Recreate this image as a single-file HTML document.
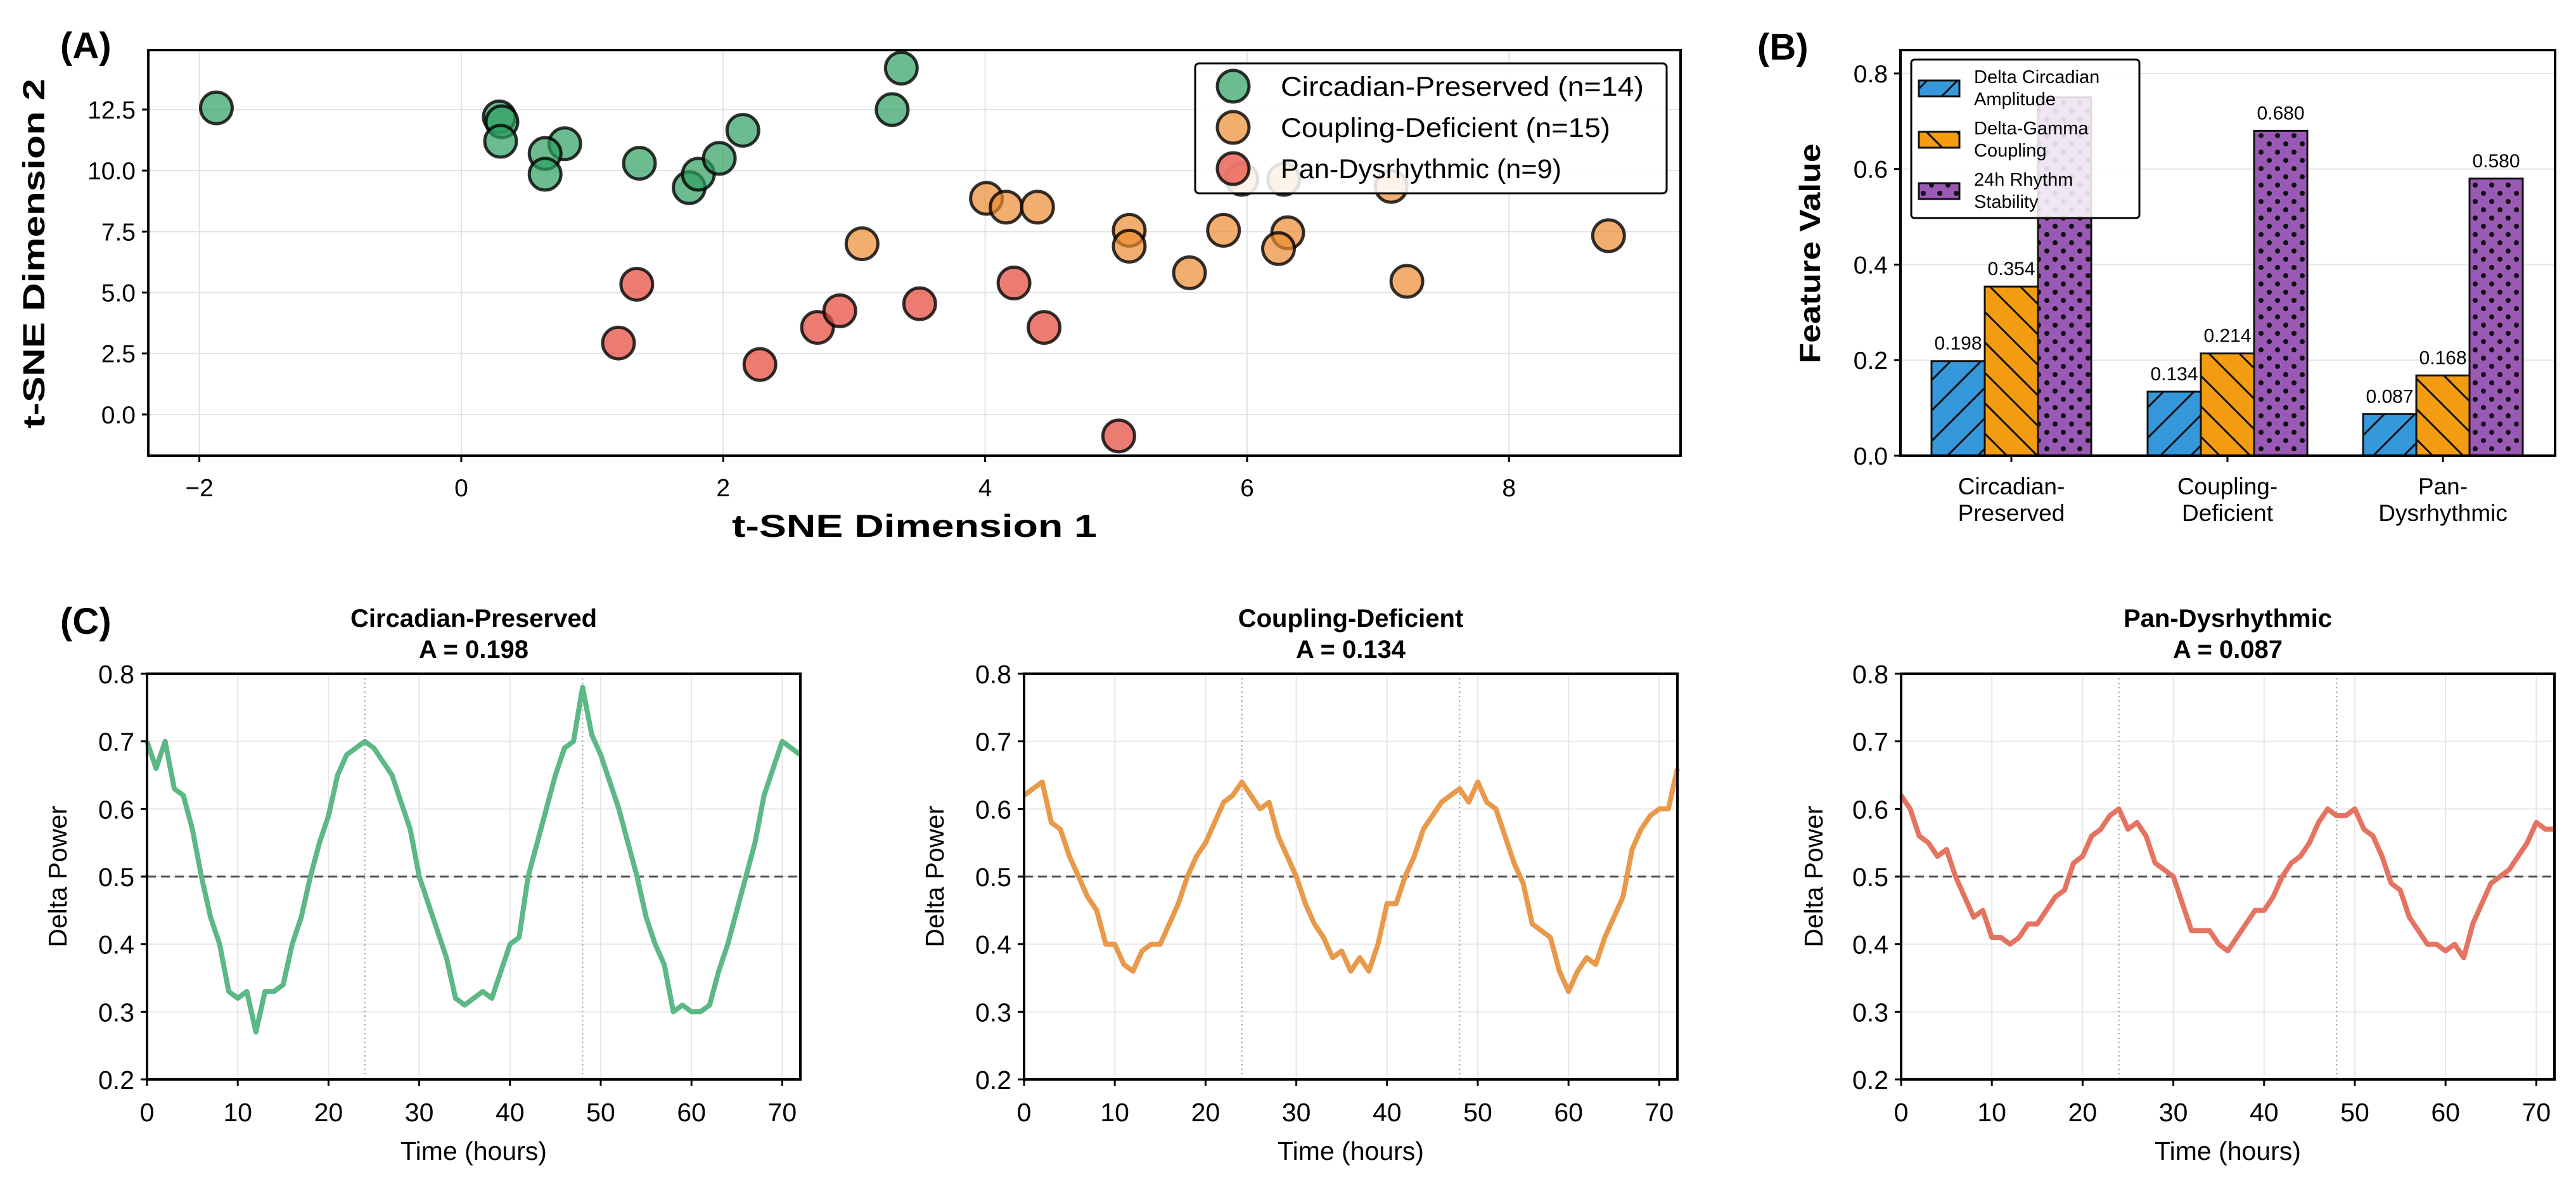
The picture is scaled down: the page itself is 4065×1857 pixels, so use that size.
<!DOCTYPE html>
<html><head><meta charset="utf-8"><style>
html,body{margin:0;padding:0;background:#fff;}
svg{display:block;font-family:"Liberation Sans","DejaVu Sans",sans-serif;}
</style></head><body>
<svg id="fig" xmlns="http://www.w3.org/2000/svg" width="4065" height="1857" viewBox="0 0 4065 1857">
<defs>
<pattern id="hatchF" patternUnits="userSpaceOnUse" width="48" height="48"><rect width="48" height="48" fill="#3498db"/><path d="M-12,60 L60,-12 M-12,12 L12,-12 M36,60 L60,36" stroke="#111" stroke-width="3"/></pattern>
<pattern id="hatchB" patternUnits="userSpaceOnUse" width="48" height="48"><rect width="48" height="48" fill="#f39c12"/><path d="M-12,-12 L60,60 M36,-12 L60,12 M-12,36 L12,60" stroke="#111" stroke-width="3"/></pattern>
<pattern id="dots" patternUnits="userSpaceOnUse" width="26" height="26"><rect width="26" height="26" fill="#9b59b6"/><circle cx="6" cy="6" r="4" fill="#111"/><circle cx="19" cy="19" r="4" fill="#111"/></pattern>
</defs>
<g id="gA"></g>
<g id="gB"></g>
<g id="gC"></g>
</svg>
<script>
// ---------- Panel A data ----------
const groupNames = ["Circadian-Preserved (n=14)", "Coupling-Deficient (n=15)", "Pan-Dysrhythmic (n=9)"];
const greenX = [-1.87, 0.29, 0.31, 0.30, 0.79, 0.64, 0.64, 1.36, 1.74, 1.81, 1.97, 2.15, 3.29, 3.36];
const greenY = [12.57, 12.2, 12.0, 11.2, 11.1, 10.7, 9.85, 10.3, 9.3, 9.85, 10.5, 11.65, 12.5, 14.2];
const orangeX = [4.01, 4.16, 4.40, 3.06, 5.10, 5.10, 5.56, 5.82, 5.96, 6.28, 6.31, 6.24, 7.10, 7.22, 8.76];
const orangeY = [8.86, 8.5, 8.5, 7.0, 7.55, 6.9, 5.81, 7.55, 9.64, 9.64, 7.45, 6.8, 9.35, 5.46, 7.33];
const redX = [1.34, 1.20, 2.28, 2.72, 2.89, 3.50, 4.22, 4.45, 5.02];
const redY = [5.34, 2.93, 2.05, 3.57, 4.25, 4.54, 5.39, 3.57, -0.88];
const aXTicks = [-2, 0, 2, 4, 6, 8];
const aYTicks = [0, 2.5, 5, 7.5, 10, 12.5];
const aYTickLabels = ["0.0", "2.5", "5.0", "7.5", "10.0", "12.5"];

// ---------- Panel B data ----------
const bCategories = [["Circadian-", "Preserved"], ["Coupling-", "Deficient"], ["Pan-", "Dysrhythmic"]];
const amplitudeVals = [0.198, 0.134, 0.087];
const couplingVals = [0.354, 0.214, 0.168];
const stabilityVals = [0.75, 0.680, 0.580];
const stabilityLabels = ["", "0.680", "0.580"];
const bSeriesNames = [["Delta Circadian", "Amplitude"], ["Delta-Gamma", "Coupling"], ["24h Rhythm", "Stability"]];
const bYTicks = [0, 0.2, 0.4, 0.6, 0.8];

// ---------- Panel C data (hourly) ----------
const cTitles = ["Circadian-Preserved", "Coupling-Deficient", "Pan-Dysrhythmic"];
const cAmps = ["A = 0.198", "A = 0.134", "A = 0.087"];
const greenSeries = [0.70,0.66,0.70,0.63,0.62,0.57,0.50,0.44,0.40,0.33,0.32,0.33,0.27,0.33,0.33,0.34,0.40,0.44,0.50,0.55,0.59,0.65,0.68,0.69,0.70,0.69,0.67,0.65,0.61,0.57,0.50,0.46,0.42,0.38,0.32,0.31,0.32,0.33,0.32,0.36,0.40,0.41,0.50,0.55,0.60,0.65,0.69,0.70,0.78,0.71,0.68,0.64,0.60,0.55,0.50,0.44,0.40,0.37,0.30,0.31,0.30,0.30,0.31,0.36,0.40,0.45,0.50,0.55,0.62,0.66,0.70,0.69,0.68];
const orangeSeries = [0.62,0.63,0.64,0.58,0.57,0.53,0.50,0.47,0.45,0.40,0.40,0.37,0.36,0.39,0.40,0.40,0.43,0.46,0.50,0.53,0.55,0.58,0.61,0.62,0.64,0.62,0.60,0.61,0.56,0.53,0.50,0.46,0.43,0.41,0.38,0.39,0.36,0.38,0.36,0.40,0.46,0.46,0.50,0.53,0.57,0.59,0.61,0.62,0.63,0.61,0.64,0.61,0.60,0.56,0.52,0.49,0.43,0.42,0.41,0.36,0.33,0.36,0.38,0.37,0.41,0.44,0.47,0.54,0.57,0.59,0.60,0.60,0.66];
const redSeries = [0.62,0.60,0.56,0.55,0.53,0.54,0.50,0.47,0.44,0.45,0.41,0.41,0.40,0.41,0.43,0.43,0.45,0.47,0.48,0.52,0.53,0.56,0.57,0.59,0.60,0.57,0.58,0.56,0.52,0.51,0.50,0.46,0.42,0.42,0.42,0.40,0.39,0.41,0.43,0.45,0.45,0.47,0.50,0.52,0.53,0.55,0.58,0.60,0.59,0.59,0.60,0.57,0.56,0.53,0.49,0.48,0.44,0.42,0.40,0.40,0.39,0.40,0.38,0.43,0.46,0.49,0.50,0.51,0.53,0.55,0.58,0.57,0.57];
const cXTicks = [0, 10, 20, 30, 40, 50, 60, 70];
const cYTicks = [0.2, 0.3, 0.4, 0.5, 0.6, 0.7, 0.8];

const NS = "http://www.w3.org/2000/svg";
function mk(parent, tag, attrs, text) {
  const e = document.createElementNS(NS, tag);
  for (const k in attrs) e.setAttribute(k, attrs[k]);
  if (text !== undefined) e.textContent = text;
  parent.appendChild(e);
  return e;
}

// ================= Panel A =================
(function () {
  const g = document.getElementById("gA");
  const L = 234, R = 2652, T = 79, B = 719;
  const xmin = -2.39, xmax = 9.31, ymin = -1.69, ymax = 14.94;
  const sx = v => L + (v - xmin) / (xmax - xmin) * (R - L);
  const sy = v => B - (v - ymin) / (ymax - ymin) * (B - T);
  let t = mk(g, "text", {x: 95, y: 92, "font-size": 58, "font-weight": "bold"}, "(A)");
  
  
  aXTicks.forEach(v => {
    let ln = mk(g, "line", {x1: sx(v), x2: sx(v), y1: T, y2: B, stroke: "#e3e3e3", "stroke-width": 2});
    
    
    mk(g, "line", {x1: sx(v), x2: sx(v), y1: B, y2: B + 10, stroke: "#000", "stroke-width": 3});
    let lb = mk(g, "text", {x: sx(v), y: B + 64, "font-size": 39, "text-anchor": "middle"}, v < 0 ? "\u2212" + (-v) : String(v));
    
    
  });
  aYTicks.forEach((v, i) => {
    let ln = mk(g, "line", {x1: L, x2: R, y1: sy(v), y2: sy(v), stroke: "#e3e3e3", "stroke-width": 2});
    
    
    mk(g, "line", {x1: L - 10, x2: L, y1: sy(v), y2: sy(v), stroke: "#000", "stroke-width": 3});
    let lb = mk(g, "text", {x: L - 20, y: sy(v) + 14, "font-size": 39, "text-anchor": "end"}, aYTickLabels[i]);
    
    
  });
  const sets = [[greenX, greenY, "rgba(46,160,96,0.7)", "green"], [orangeX, orangeY, "rgba(235,140,50,0.7)", "orange"], [redX, redY, "rgba(230,80,65,0.75)", "red"]];
  sets.forEach(s => {
    s[0].forEach((xv, i) => {
      let c = mk(g, "circle", {cx: sx(xv), cy: sy(s[1][i]), r: 25, fill: s[2], stroke: "rgba(0,0,0,0.8)", "stroke-width": 5});
      
      
    });
  });
  let fr = mk(g, "rect", {x: L, y: T, width: R - L, height: B - T, fill: "none", stroke: "#000", "stroke-width": 4});
  
  
  let xt = mk(g, "text", {x: (L + R) / 2, y: 847, "font-size": 50, "font-weight": "bold", "text-anchor": "middle", textLength: 576, lengthAdjust: "spacingAndGlyphs"}, "t-SNE Dimension 1");
  
  
  let yt = mk(g, "text", {x: 0, y: 0, "font-size": 48, "font-weight": "bold", "text-anchor": "middle", textLength: 552, lengthAdjust: "spacingAndGlyphs", transform: "translate(70,400) rotate(-90)"}, "t-SNE Dimension 2");
  
  
  const lg = mk(g, "g", {});
  
  
  mk(lg, "rect", {x: 1886, y: 100, width: 744, height: 205, rx: 6, fill: "rgba(255,255,255,0.85)", stroke: "#000", "stroke-width": 3});
  const lc = ["rgba(46,160,96,0.7)", "rgba(235,140,50,0.7)", "rgba(230,80,65,0.75)"];
  const lens = [573, 520, 443];
  groupNames.forEach((n, i) => {
    const y = 136 + i * 65;
    const e = mk(lg, "g", {});
    
    
    mk(e, "circle", {cx: 1946, cy: y, r: 25, fill: lc[i], stroke: "rgba(0,0,0,0.8)", "stroke-width": 5});
    mk(e, "text", {x: 2021, y: y + 15, "font-size": 43, textLength: lens[i], lengthAdjust: "spacingAndGlyphs"}, n);
  });
})();

// ================= Panel B =================
(function () {
  const g = document.getElementById("gB");
  const L = 2999, R = 4032, T = 79, B = 719, ymax = 0.849;
  const sy = v => B - v / ymax * (B - T);
  const centers = [3174, 3515, 3855], bw = 84;
  let t = mk(g, "text", {x: 2773, y: 94, "font-size": 58, "font-weight": "bold"}, "(B)");
  
  
  bYTicks.forEach(v => {
    let ln = mk(g, "line", {x1: L, x2: R, y1: sy(v), y2: sy(v), stroke: "#e6e6e6", "stroke-width": 2});
    
    
    mk(g, "line", {x1: L - 10, x2: L, y1: sy(v), y2: sy(v), stroke: "#000", "stroke-width": 3});
    let lb = mk(g, "text", {x: L - 20, y: sy(v) + 14, "font-size": 39, "text-anchor": "end"}, v.toFixed(1));
    
    
  });
  const series = [[amplitudeVals, "url(#hatchF)", "amplitude", -1], [couplingVals, "url(#hatchB)", "coupling", 0], [stabilityVals, "url(#dots)", "stability", 1]];
  series.forEach(s => {
    s[0].forEach((v, i) => {
      const x = centers[i] + s[3] * bw - bw / 2;
      let r = mk(g, "rect", {x: x, y: sy(v), width: bw, height: sy(0) - sy(v), fill: s[1], stroke: "#111", "stroke-width": 3});
      
      
      const lab = s[2] === "stability" ? stabilityLabels[i] : v.toFixed(3);
      if (lab) {
        let tx = mk(g, "text", {x: x + bw / 2, y: sy(v) - 18, "font-size": 30, "text-anchor": "middle"}, lab);
        
        
      }
    });
  });
  centers.forEach((c, i) => {
    mk(g, "line", {x1: c, x2: c, y1: B, y2: B + 10, stroke: "#000", "stroke-width": 3});
    bCategories[i].forEach((ln, j) => {
      let tx = mk(g, "text", {x: c, y: 780 + j * 42, "font-size": 37, "text-anchor": "middle"}, ln);
      
      
    });
  });
  let fr = mk(g, "rect", {x: L, y: T, width: R - L, height: B - T, fill: "none", stroke: "#000", "stroke-width": 4});
  
  
  let yt = mk(g, "text", {x: 0, y: 0, "font-size": 46, "font-weight": "bold", "text-anchor": "middle", textLength: 347, lengthAdjust: "spacingAndGlyphs", transform: "translate(2872,400) rotate(-90)"}, "Feature Value");
  
  
  const lg = mk(g, "g", {});
  
  
  mk(lg, "rect", {x: 3016, y: 94, width: 360, height: 250, rx: 5, fill: "rgba(255,255,255,0.85)", stroke: "#000", "stroke-width": 3});
  const fills = ["url(#hatchF)", "url(#hatchB)", "url(#dots)"];
  bSeriesNames.forEach((n, i) => {
    const y = 139 + i * 81;
    const e = mk(lg, "g", {});
    
    
    mk(e, "rect", {x: 3028, y: y - 12, width: 64, height: 25, fill: fills[i], stroke: "#111", "stroke-width": 3});
    mk(e, "text", {x: 3115, y: y - 8, "font-size": 29}, n[0]);
    mk(e, "text", {x: 3115, y: y + 27, "font-size": 29}, n[1]);
  });
})();

// ================= Panel C =================
(function () {
  const g = document.getElementById("gC");
  let t = mk(g, "text", {x: 95, y: 1000, "font-size": 58, "font-weight": "bold"}, "(C)");
  
  
  const lefts = [232, 1616, 3000], W = 1031, T = 1063, B = 1703;
  const series = [greenSeries, orangeSeries, redSeries];
  const colors = ["#5cb885", "#e8994a", "#e57361"];
  const ylabX = [91, 1475, 2862];
  series.forEach((data, p) => {
    const L = lefts[p], R = L + W;
    const sp = mk(g, "g", {});
    
    
    const sx = v => L + v / 72 * W;
    const sy = v => B - (v - 0.2) / 0.6 * (B - T);
    cXTicks.forEach(v => {
      let ln = mk(sp, "line", {x1: sx(v), x2: sx(v), y1: T, y2: B, stroke: "#e6e6e6", "stroke-width": 2});
      
      
      mk(sp, "line", {x1: sx(v), x2: sx(v), y1: B, y2: B + 10, stroke: "#000", "stroke-width": 3});
      let lb = mk(sp, "text", {x: sx(v), y: B + 66, "font-size": 41, "text-anchor": "middle"}, String(v));
      
      
    });
    cYTicks.forEach(v => {
      let ln = mk(sp, "line", {x1: L, x2: R, y1: sy(v), y2: sy(v), stroke: "#e6e6e6", "stroke-width": 2});
      
      
      mk(sp, "line", {x1: L - 10, x2: L, y1: sy(v), y2: sy(v), stroke: "#000", "stroke-width": 3});
      let lb = mk(sp, "text", {x: L - 20, y: sy(v) + 15, "font-size": 41, "text-anchor": "end"}, v.toFixed(1));
      
      
    });
    [24, 48].forEach(v => {
      let ln = mk(sp, "line", {x1: sx(v), x2: sx(v), y1: T, y2: B, stroke: "#999", "stroke-width": 2, "stroke-dasharray": "2 5"});
      
      
    });
    let ref = mk(sp, "line", {x1: L, x2: R, y1: sy(0.5), y2: sy(0.5), stroke: "#555", "stroke-width": 3, "stroke-dasharray": "14 8"});
    
    
    const pts = data.map((v, i) => sx(i).toFixed(1) + "," + sy(v).toFixed(1)).join(" ");
    let pl = mk(sp, "polyline", {points: pts, fill: "none", stroke: colors[p], "stroke-width": 8, "stroke-linejoin": "round"});
    
    
    let fr = mk(sp, "rect", {x: L, y: T, width: W, height: B - T, fill: "none", stroke: "#000", "stroke-width": 4});
    
    
    let t1 = mk(sp, "text", {x: L + W / 2, y: 989, "font-size": 40, "font-weight": "bold", "text-anchor": "middle"}, cTitles[p]);
    
    
    let t2 = mk(sp, "text", {x: L + W / 2, y: 1038, "font-size": 40, "font-weight": "bold", "text-anchor": "middle"}, cAmps[p]);
    
    
    let xl = mk(sp, "text", {x: L + W / 2, y: 1830, "font-size": 41, "text-anchor": "middle"}, "Time (hours)");
    
    
    let yl = mk(sp, "text", {x: 0, y: 0, "font-size": 41, "text-anchor": "middle", transform: "translate(" + (ylabX[p] + 14) + ",1383) rotate(-90)"}, "Delta Power");
    
    
  });
})();
</script>
</body></html>
